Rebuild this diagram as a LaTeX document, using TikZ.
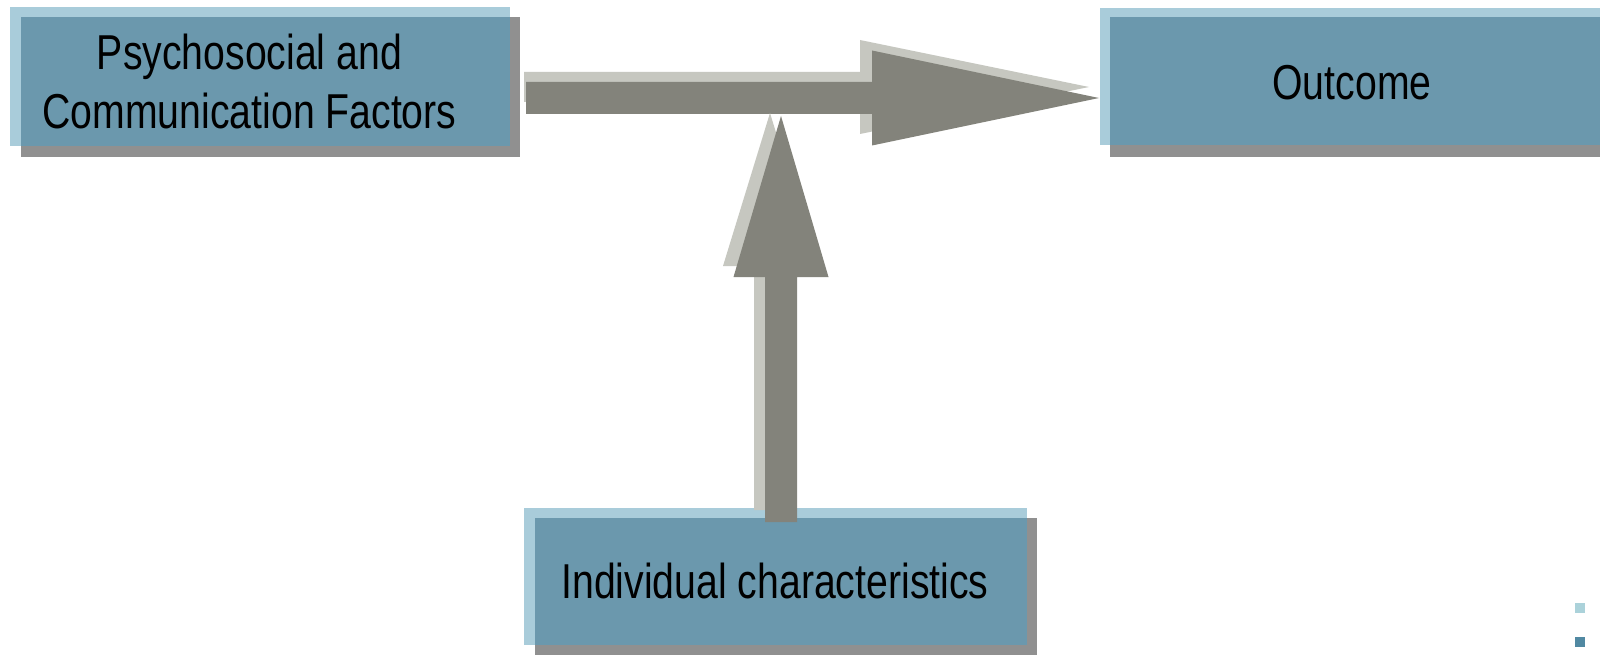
\documentclass[tikz,border=0pt]{standalone}
\usepackage{fontspec}
\setmainfont[FakeStretch=0.8]{Liberation Sans}
\usetikzlibrary{calc,backgrounds}

\definecolor{panelblue}{HTML}{6B98AD}
\definecolor{paleblue}{HTML}{A9CCDA}
\definecolor{shadowgrey}{HTML}{909090}
\definecolor{arrowgrey}{HTML}{83837B}
\definecolor{arrowpale}{HTML}{C6C7C0}
\definecolor{markerpale}{HTML}{ABD2DA}
\definecolor{markerdark}{HTML}{5189A2}

% block arrow: #1 style, #2 tail, #3 tip, #4 shaft half width,
% #5 head half width, #6 head length
\newcommand\fatarrow[6]{%
  \path coordinate (fa-base) at ($(#3)!#6!(#2)$);
  \fill[#1]
    ($(#2)!#4!90:(#3)$) --
    ($(fa-base)!#4!-90:(#2)$) --
    ($(fa-base)!#5!-90:(#2)$) --
    (#3) --
    ($(fa-base)!#5!90:(#2)$) --
    ($(fa-base)!#4!90:(#2)$) --
    ($(#2)!#4!-90:(#3)$) -- cycle;
}

\begin{document}
\begin{tikzpicture}[x=1pt,y=-1pt,
  panel/.style={fill=panelblue, draw=none, inner sep=0pt, outer sep=0pt,
                anchor=north west},
  backlayer/.style={fill=paleblue},
  shadowlayer/.style={fill=shadowgrey},
  caption/.style={font=\fontsize{49}{59}\selectfont, align=center,
                  inner sep=0pt, text=black},
  arrowdark/.style={fill=arrowgrey},
  arrowlight/.style={fill=arrowpale}]

  \useasboundingbox (0,0) rectangle (1600,655);

  % the three boxes
  \node[panel, minimum width=489pt, minimum height=129pt] (psy) at (21,17) {};
  \node[panel, minimum width=490pt, minimum height=128pt] (out) at (1110,17) {};
  \node[panel, minimum width=492pt, minimum height=127pt] (ind) at (535,518) {};

  % pale layer up-left and grey layer down-right of every box
  \begin{scope}[on background layer]
    \fill[white] (0,0) rectangle (1600,655);
    \foreach \b in {psy,ind} {
      \fill[backlayer] ($(\b.north west)+(-11,-10)$) rectangle (\b.south east);
      \fill[shadowlayer] (\b.north west) rectangle ($(\b.south east)+(10,11)$);
    }
    \fill[backlayer] ($(out.north west)+(-10,-9)$) rectangle (out.south east);
    \fill[shadowlayer] (out.north west) rectangle ($(out.south east)+(0,12)$);
  \end{scope}

  % labels
  \node[caption] (psy-text) at ($(psy.center)+(-16,0)$)
    {Psychosocial and\\Communication Factors};
  \node[caption] (out-text) at ($(out.center)+(-3,2)$) {Outcome};
  \node[caption] (ind-text) at ($(ind.center)+(-6,-1)$) {Individual characteristics};

  % arrow ends
  \coordinate (h-tail-pale) at ($(psy.east)+(14,5.5)$);
  \coordinate (h-tip-pale)  at ($(out.west)+(-21,6)$);
  \coordinate (h-tail)      at ($(psy.east)+(16,16.5)$);
  \coordinate (h-tip)       at ($(out.west)+(-11,17)$);
  \coordinate (v-tail-pale) at ($(ind.north)+(-11,-8)$);
  \coordinate (v-tip-pale)  at ($(ind.north)+(-11,-405)$);
  \coordinate (v-tail)      at ($(ind.north)+(0,4)$);
  \coordinate (v-tip)       at ($(ind.north)+(0,-402)$);

  % horizontal arrow: psychosocial factors -> outcome
  \fatarrow{arrowlight}{h-tail-pale}{h-tip-pale}{15pt}{47pt}{229pt}
  \fatarrow{arrowdark}{h-tail}{h-tip}{16pt}{47.5pt}{227pt}

  % vertical arrow: individual characteristics -> the link
  \fatarrow{arrowlight}{v-tail-pale}{v-tip-pale}{16pt}{47pt}{153pt}
  \fatarrow{arrowdark}{v-tail}{v-tip}{16pt}{47.5pt}{161pt}

  % small markers in the lower right corner
  \fill[markerpale] (1575,603) rectangle (1585,613);
  \fill[markerdark] (1575,637) rectangle (1585,647);
\end{tikzpicture}
\end{document}
